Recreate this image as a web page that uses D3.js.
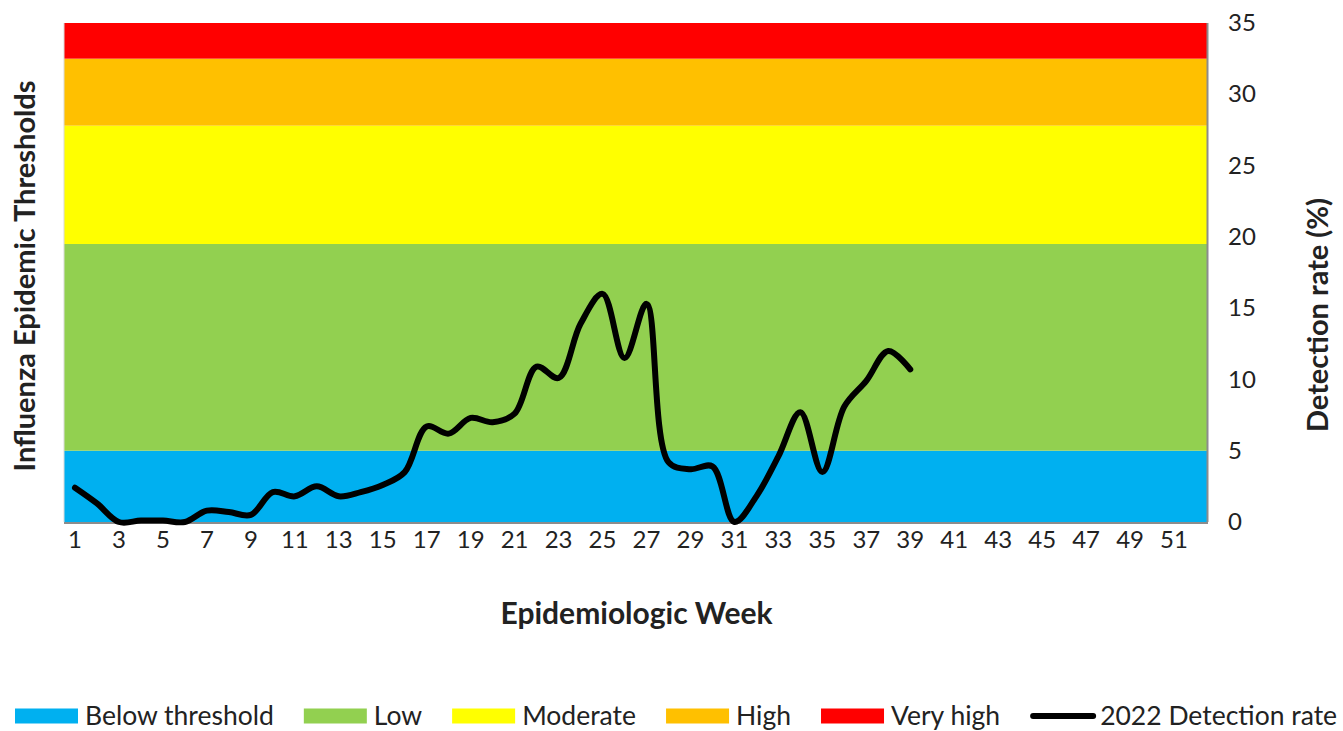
<!DOCTYPE html>
<html>
<head>
<meta charset="utf-8">
<script src="https://cdn.jsdelivr.net/npm/d3@7"></script>
<style>
  body { margin: 0; background: #fff; }
  svg { font-family: Lato, "Open Sans", sans-serif; }
</style>
</head>
<body>
<svg id="chart" width="1343" height="731"></svg>
<script>
// weeks 1..52, detection rate only reported up to week 39
var weeks = d3.range(1, 53);
var detection_rate = [2.4, 1.3, 0.0, 0.1, 0.1, 0.0, 0.8, 0.7, 0.5, 2.1,
	1.8, 2.5, 1.8, 2.1, 2.6, 3.5, 6.7, 6.2, 7.3, 7.0,
	7.6, 10.9, 10.1, 13.9, 16.0, 11.5, 15.3, 4.2, 3.7, 3.9,
	0.0, 1.8, 4.6, 7.7, 3.5, 8.1, 9.9, 12.0, 10.7];

var band_names = ["Below threshold", "Low", "Moderate", "High", "Very high"];
var band_limits = [0, 5, 19.5, 27.8, 32.5, 35];
var band_colors = ["#00b0f0", "#92d050", "#ffff00", "#ffc000", "#ff0000"];
var y_ticks = [0, 5, 10, 15, 20, 25, 30, 35];
var line_label = "2022 Detection rate";

var margin = {top: 23, right: 136, bottom: 209, left: 64};
var width = 1343 - margin.left - margin.right;
var height = 731 - margin.top - margin.bottom;

var svg = d3.select("#chart");
var g = svg.append("g")
	.attr("transform", "translate(" + margin.left + "," + margin.top + ")");

var x = d3.scaleBand().domain(weeks).range([0, width]);
var y = d3.scaleLinear().domain([0, 35]).range([height, 0]);

/* threshold bands */
g.selectAll(".band")
	.data(band_names)
	.enter().append("rect")
	.attr("class", "band")
	.attr("x", 0)
	.attr("width", width)
	.attr("y", function(d, i){ return y(band_limits[i + 1]); })
	.attr("height", function(d, i){ return y(band_limits[i]) - y(band_limits[i + 1]); })
	.attr("fill", function(d, i){ return band_colors[i]; });

/* frame */
g.append("line").attr("x1", width + 0.5).attr("x2", width + 0.5).attr("y1", 0).attr("y2", height)
	.attr("stroke", "#8c8c8c").attr("stroke-width", 2);
g.append("line").attr("x1", 0).attr("x2", width + 1).attr("y1", height + 1).attr("y2", height + 1)
	.attr("stroke", "#8c8c8c").attr("stroke-width", 2);
g.append("line").attr("x1", 0).attr("x2", 0).attr("y1", 0).attr("y2", height)
	.attr("stroke", "#d9d9d9").attr("stroke-width", 1);

/* x axis - odd weeks only */
var xAxis = g.append("g")
	.attr("transform", "translate(0," + height + ")")
	.call(d3.axisBottom(x)
		.tickValues(weeks.filter(function(d){ return d % 2 == 1; }))
		.tickSize(0).tickPadding(9));
xAxis.select(".domain").remove();
xAxis.selectAll("text").attr("font-size", 24).attr("fill", "#222").attr("font-family", "Lato, sans-serif");

/* right axis */
var yAxis = g.append("g")
	.attr("transform", "translate(" + width + ",0)")
	.call(d3.axisRight(y).tickValues(y_ticks).tickSize(0).tickPadding(21));
yAxis.select(".domain").remove();
yAxis.selectAll("text").attr("font-size", 24).attr("fill", "#222").attr("font-family", "Lato, sans-serif");

/* detection rate line */
var line = d3.line()
	.x(function(d, i){ return x(weeks[i]) + x.bandwidth() / 2; })
	.y(function(d){ return y(d); })
	.curve(d3.curveCatmullRom.alpha(0.5));

g.append("path")
	.datum(detection_rate)
	.attr("fill", "none")
	.attr("stroke", "#000")
	.attr("stroke-width", 6)
	.attr("stroke-linecap", "round")
	.attr("stroke-linejoin", "round")
	.attr("d", line);

/* axis titles */
svg.append("text")
	.attr("transform", "translate(35,276) rotate(-90)")
	.attr("text-anchor", "middle")
	.attr("font-size", 29).attr("font-weight", "bold").attr("fill", "#222")
	.text("Influenza Epidemic Thresholds");

svg.append("text")
	.attr("transform", "translate(1328,315) rotate(-90)")
	.attr("text-anchor", "middle")
	.attr("font-size", 29).attr("font-weight", "bold").attr("fill", "#222")
	.text("Detection rate (%)");

svg.append("text")
	.attr("x", margin.left + width / 2 + 1)
	.attr("y", 624)
	.attr("text-anchor", "middle")
	.attr("font-size", 30).attr("font-weight", "bold").attr("fill", "#222")
	.text("Epidemiologic Week");

/* legend */
var legend = svg.append("g").attr("transform", "translate(15,716)");
var lx = 0;
var items = band_names.map(function(d, i){ return {name: d, color: band_colors[i], type: "rect"}; });
items.push({name: line_label, color: "#000", type: "line"});

items.forEach(function(it, i){
	var item = legend.append("g").attr("transform", "translate(" + lx + ",0)");
	if (it.type == "rect"){
		item.append("rect").attr("x", 0).attr("y", -7.5).attr("width", 63).attr("height", 15).attr("fill", it.color);
	} else {
		item.append("line").attr("x1", 3).attr("x2", 63).attr("y1", 0).attr("y2", 0)
			.attr("stroke", "#000").attr("stroke-width", 6).attr("stroke-linecap", "round");
	}
	var t = item.append("text")
		.attr("x", 70).attr("y", 0).attr("dy", "0.33em")
		.attr("font-size", 26.5).attr("fill", "#222")
		.text(it.name);
	lx += 70 + t.node().getComputedTextLength() + 30;
});
</script>
</body>
</html>
